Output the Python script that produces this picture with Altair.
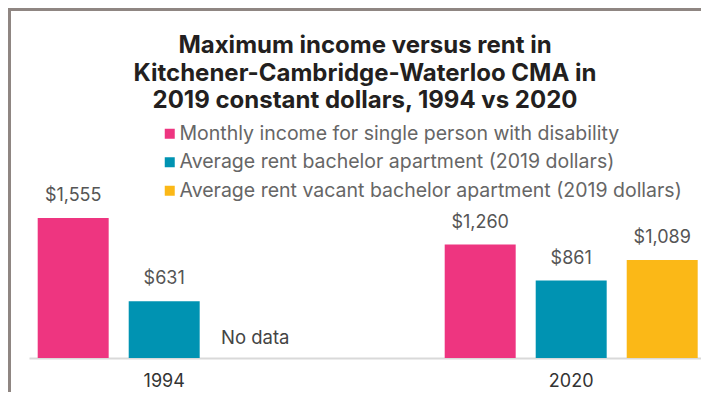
import altair as alt
import pandas as pd

years = ["1994", "2020"]
series = [
    "Monthly income for single person with disability",
    "Average rent bachelor  apartment (2019 dollars)",
    "Average rent vacant bachelor apartment (2019 dollars)",
]
values_1994 = [1555, 631, None]
values_2020 = [1260, 861, 1089]
colors = ["#EE3580", "#0093B2", "#FBB817"]
title_lines = [
    "Maximum income versus rent in",
    "Kitchener-Cambridge-Waterloo CMA in",
    "2019 constant dollars, 1994 vs 2020",
]
no_data_note = "No data"

rows = []
for yr, vals in zip(years, [values_1994, values_2020]):
    for s, v in zip(series, vals):
        rows.append({"year": yr, "series": s, "value": v})
df = pd.DataFrame(rows)

note_df = pd.DataFrame([{"year": "1994", "series": series[2], "base": 0, "note": no_data_note}])

FONT = "Inter"
W, H = 672, 162

xenc = alt.X(
    "year:N",
    sort=years,
    scale=alt.Scale(paddingInner=0.3784, paddingOuter=0.01474, align=0.725),
    axis=alt.Axis(
        title=None, labelAngle=0, ticks=False, domainColor="#d9d9d9", domainWidth=2,
        labelFontSize=18, labelColor="#333333", labelFont=FONT, labelPadding=14,
    ),
)
xoff = alt.XOffset("series:N", sort=series, scale=alt.Scale(domain=series, paddingInner=0.22, paddingOuter=0))
yenc = alt.Y("value:Q", scale=alt.Scale(domain=[0, 1800]), axis=None)

bars = alt.Chart(df).mark_bar().encode(
    x=xenc,
    xOffset=xoff,
    y=yenc,
    color=alt.Color(
        "series:N",
        sort=series,
        scale=alt.Scale(domain=series, range=colors),
        legend=alt.Legend(
            title=None, orient="none", legendX=131, legendY=-72, symbolType="square",
            symbolSize=100, symbolStrokeWidth=0, labelFontSize=19.5, labelColor="#666666",
            labelFont=FONT, rowPadding=7.5, padding=0, labelOffset=0, labelLimit=600,
        ),
    ),
)

labels = alt.Chart(df).mark_text(
    baseline="alphabetic", dy=-17, fontSize=18, color="#555555", font=FONT
).encode(
    x=alt.X("year:N", sort=years),
    xOffset=alt.XOffset("series:N", sort=series),
    y=alt.Y("value:Q"),
    text=alt.Text("value:Q", format="$,.0f"),
)

note = alt.Chart(note_df).mark_text(
    baseline="alphabetic", dy=-14, fontSize=18.5, color="#444444", font=FONT
).encode(
    x=alt.X("year:N", sort=years),
    xOffset=alt.XOffset("series:N", sort=series),
    y=alt.Y("base:Q"),
    text="note:N",
)

frame_left = alt.Chart(pd.DataFrame([{"k": 1}])).mark_rule(color="#8F8682", strokeWidth=3).encode(
    x=alt.value(-19.5), y=alt.value(-186.5), y2=alt.value(210)
)
frame_top = alt.Chart(pd.DataFrame([{"k": 1}])).mark_rule(color="#8F8682", strokeWidth=3).encode(
    x=alt.value(-21), x2=alt.value(680), y=alt.value(-186.5)
)

chart = alt.layer(bars, labels, note, frame_left, frame_top).properties(
    width=W,
    height=H,
    autosize=alt.AutoSizeParams(type="none"),
    padding={"left": 21, "top": 188, "right": 0, "bottom": 34},
    title=alt.TitleParams(
        text=title_lines, anchor="middle", frame="group", fontSize=24, fontWeight="bold",
        font=FONT, color="#231f20", lineHeight=27.5, offset=-105,
    ),
).configure_view(stroke=None)

chart.save("out.html", embed_options={"renderer": "svg", "actions": False})
